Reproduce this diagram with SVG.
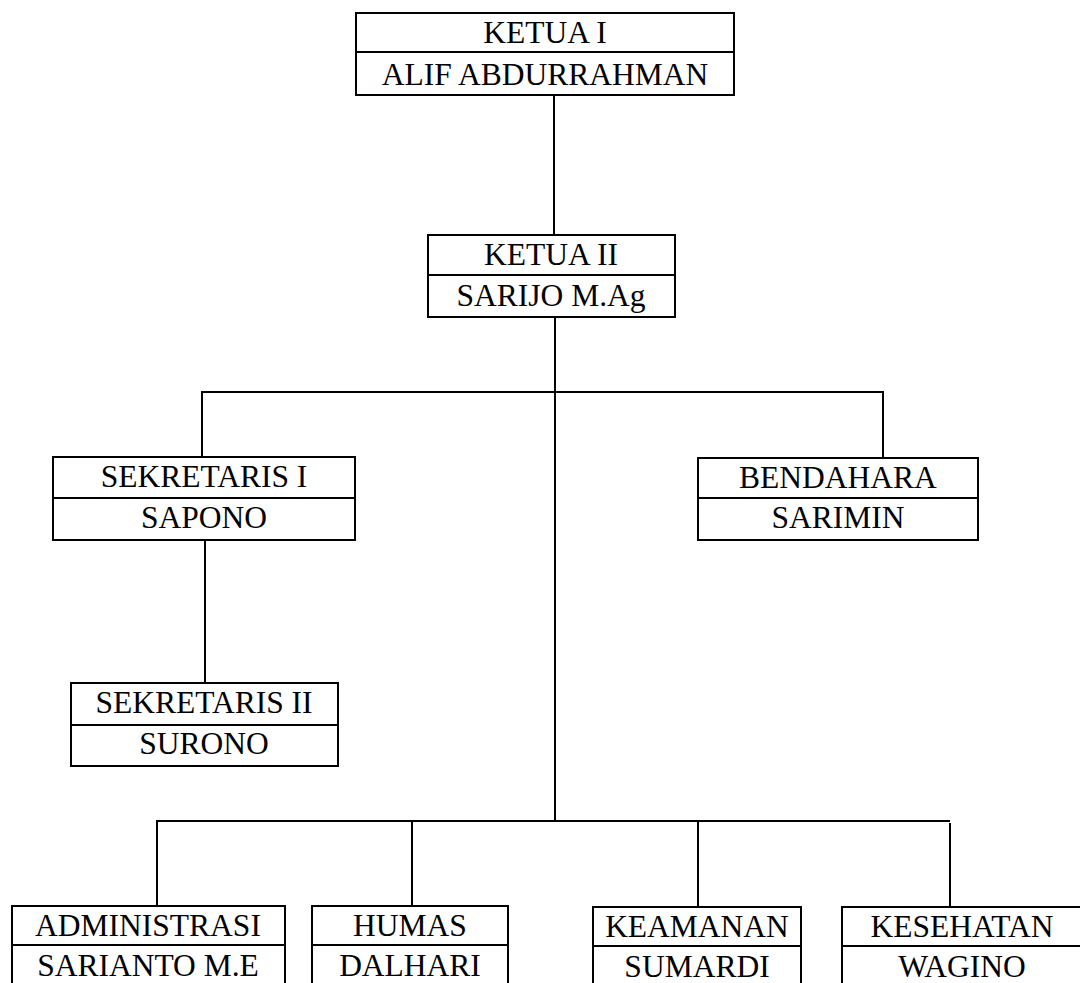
<svg xmlns="http://www.w3.org/2000/svg" width="1080" height="983" viewBox="0 0 1080 983">
<style>
.box{fill:#fff;stroke:#000;stroke-width:2}
.div{stroke:#000;stroke-width:2}
.c{stroke:#000;stroke-width:2;fill:none}
text{font-family:"Liberation Serif","Times New Roman",serif;font-size:31.5px;fill:#000;text-anchor:middle}
</style>
<rect width="1080" height="983" fill="#fff"/>
<g id="connectors">
<line class="c" x1="554" y1="95" x2="554" y2="235"/>
<line class="c" x1="555" y1="317" x2="555" y2="821"/>
<line class="c" x1="202" y1="392" x2="883" y2="392"/>
<line class="c" x1="202" y1="391" x2="202" y2="457"/>
<line class="c" x1="883" y1="391" x2="883" y2="458"/>
<line class="c" x1="205" y1="540" x2="205" y2="683"/>
<line class="c" x1="156" y1="821" x2="950" y2="821"/>
<line class="c" x1="157" y1="821" x2="157" y2="906"/>
<line class="c" x1="412" y1="821" x2="412" y2="906"/>
<line class="c" x1="698" y1="821" x2="698" y2="907"/>
<line class="c" x1="950" y1="823" x2="950" y2="907"/>
</g>
<g id="ketua1">
<rect class="box" x="356" y="13" width="378" height="82"/>
<line class="div" x1="356" y1="52" x2="734" y2="52"/>
<text x="545" y="43">KETUA I</text>
<text x="545" y="85">ALIF ABDURRAHMAN</text>
</g>
<g id="ketua2">
<rect class="box" x="428" y="235" width="247" height="82"/>
<line class="div" x1="428" y1="275" x2="675" y2="275"/>
<text x="551" y="265">KETUA II</text>
<text x="551" y="306">SARIJO M.Ag</text>
</g>
<g id="sekretaris1">
<rect class="box" x="53" y="457" width="302" height="83"/>
<line class="div" x1="53" y1="498" x2="355" y2="498"/>
<text x="204" y="487">SEKRETARIS I</text>
<text x="204" y="528">SAPONO</text>
</g>
<g id="bendahara">
<rect class="box" x="698" y="458" width="280" height="82"/>
<line class="div" x1="698" y1="498" x2="978" y2="498"/>
<text x="838" y="488">BENDAHARA</text>
<text x="838" y="528">SARIMIN</text>
</g>
<g id="sekretaris2">
<rect class="box" x="71" y="683" width="267" height="83"/>
<line class="div" x1="71" y1="725" x2="338" y2="725"/>
<text x="204" y="713">SEKRETARIS II</text>
<text x="204" y="754">SURONO</text>
</g>
<g id="administrasi">
<rect class="box" x="12" y="906" width="273" height="90"/>
<line class="div" x1="12" y1="945" x2="285" y2="945"/>
<text x="148" y="936">ADMINISTRASI</text>
<text x="148" y="976">SARIANTO M.E</text>
</g>
<g id="humas">
<rect class="box" x="312" y="906" width="196" height="90"/>
<line class="div" x1="312" y1="945" x2="508" y2="945"/>
<text x="410" y="936">HUMAS</text>
<text x="410" y="976">DALHARI</text>
</g>
<g id="keamanan">
<rect class="box" x="593" y="907" width="208" height="90"/>
<line class="div" x1="593" y1="946" x2="801" y2="946"/>
<text x="697" y="937">KEAMANAN</text>
<text x="697" y="977">SUMARDI</text>
</g>
<g id="kesehatan">
<rect class="box" x="842" y="907" width="245" height="90"/>
<line class="div" x1="842" y1="946" x2="1087" y2="946"/>
<text x="962" y="937">KESEHATAN</text>
<text x="962" y="977">WAGINO</text>
</g>
</svg>
